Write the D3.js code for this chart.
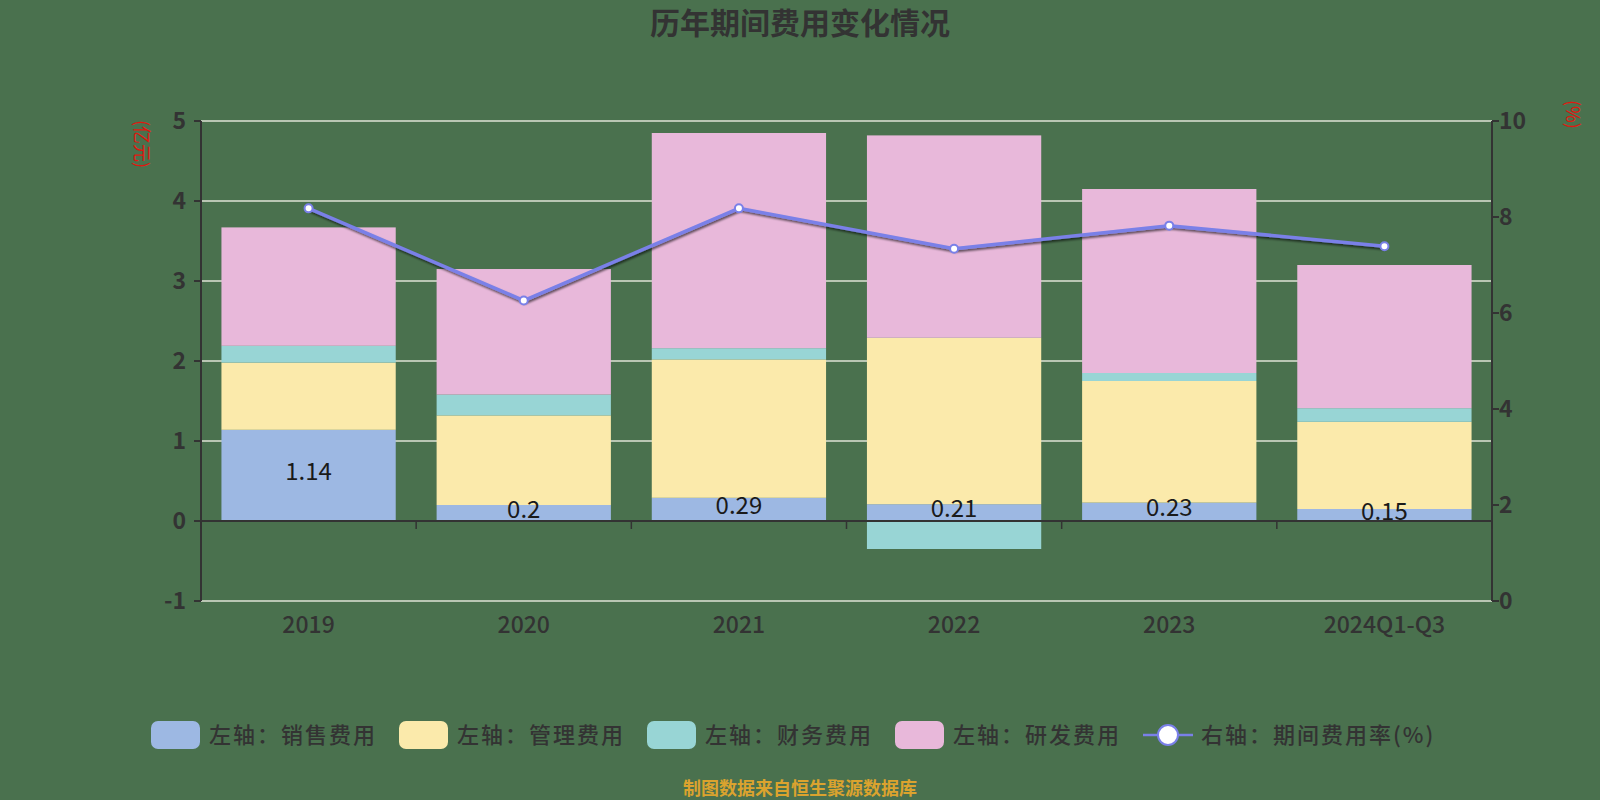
<!DOCTYPE html>
<html><head><meta charset="utf-8">
<script src="https://cdn.jsdelivr.net/npm/d3@7"></script>
<style>
html,body{margin:0;padding:0;background:#4a714e;}
svg{display:block;font-family:"Noto Sans CJK SC","Noto Sans",sans-serif;}
</style></head>
<body>
<svg id="chart" width="1600" height="800"></svg>
<script>
const categories = ['2019','2020','2021','2022','2023','2024Q1-Q3'];
const salesExp   = [1.14, 0.2, 0.29, 0.21, 0.23, 0.15];
const adminExp   = [0.84, 1.12, 1.73, 2.08, 1.52, 1.09];
const financeExp = [0.21, 0.26, 0.14, -0.35, 0.10, 0.17];
const rdExp      = [1.48, 1.57, 2.69, 2.53, 2.30, 1.79];
const expenseRate = [8.18, 6.26, 8.18, 7.34, 7.82, 7.39];
const leftTicks = [-1, 0, 1, 2, 3, 4, 5];
const rightTicks = [0, 2, 4, 6, 8, 10];
const seriesNames = ['左轴：销售费用','左轴：管理费用','左轴：财务费用','左轴：研发费用','右轴：期间费用率(%)'];
const title = '历年期间费用变化情况';
const source = '制图数据来自恒生聚源数据库';

const colors = ['#9db8e3','#fbeaab','#98d5d5','#e8b8da'];
const lineColor = '#7a80e8';

const svg = d3.select('#chart');
const W = 1600, H = 800;
const L = 201, R = 1492, T = 121, B = 601;

svg.append('rect').attr('width', W).attr('height', H).attr('fill', '#4a714e');

const defs = svg.append('defs');
const f = defs.append('filter').attr('id','shadow').attr('x','-10%').attr('y','-50%').attr('width','120%').attr('height','200%');
f.append('feDropShadow').attr('dx',1).attr('dy',2).attr('stdDeviation',1.2).attr('flood-color','#000').attr('flood-opacity',0.6);

const x = d3.scaleBand().domain(categories).range([L, R]).padding(0);
const yL = d3.scaleLinear().domain([-1, 5]).range([B, T]);
const yR = d3.scaleLinear().domain([0, 10]).range([B, T]);

// grid
svg.append('g').selectAll('line').data(leftTicks).join('line')
  .attr('x1', L).attr('x2', R).attr('y1', d => yL(d)).attr('y2', d => yL(d))
  .attr('stroke', '#dfe3d6').attr('stroke-width', 1.5);

// bars (positive / negative stacks)
const seriesData = [salesExp, adminExp, financeExp, rdExp];
const barW = x.bandwidth() * 0.81;
const rects = [];
categories.forEach((c, i) => {
  let pos = 0, neg = 0;
  seriesData.forEach((s, k) => {
    const v = s[i];
    let y0, y1;
    if (v >= 0) { y0 = pos; y1 = pos + v; pos = y1; }
    else { y1 = neg; y0 = neg + v; neg = y0; }
    rects.push({c, k, y0, y1, v});
  });
});
svg.append('g').selectAll('rect').data(rects).join('rect')
  .attr('x', d => x(d.c) + (x.bandwidth() - barW) / 2)
  .attr('width', barW)
  .attr('y', d => yL(d.y1))
  .attr('height', d => yL(d.y0) - yL(d.y1))
  .attr('fill', d => colors[d.k]);

// sales labels
svg.append('g').selectAll('text').data(rects.filter(d => d.k === 0)).join('text')
  .attr('x', d => x(d.c) + x.bandwidth() / 2)
  .attr('y', d => (yL(d.y0) + yL(d.y1)) / 2 - 4)
  .attr('dy', '0.36em')
  .attr('text-anchor', 'middle')
  .attr('font-size', 24).attr('fill', '#1a1a1a')
  .text(d => d.v);

// left axis
const gl = svg.append('g');
gl.append('line').attr('x1', L).attr('x2', L).attr('y1', T).attr('y2', B).attr('stroke', '#333').attr('stroke-width', 2);
gl.selectAll('line.t').data(leftTicks).join('line').attr('class','t')
  .attr('x1', L - 7).attr('x2', L).attr('y1', d => yL(d)).attr('y2', d => yL(d))
  .attr('stroke', '#333').attr('stroke-width', 2);
gl.selectAll('text').data(leftTicks).join('text')
  .attr('x', L - 15).attr('y', d => yL(d)).attr('dy', '0.35em')
  .attr('text-anchor', 'end').attr('font-size', 23).attr('fill', '#333').attr('font-weight', 'bold')
  .text(d => d);

// right axis
const gr = svg.append('g');
gr.append('line').attr('x1', R).attr('x2', R).attr('y1', T).attr('y2', B).attr('stroke', '#333').attr('stroke-width', 2);
gr.selectAll('line.t').data(rightTicks).join('line').attr('class','t')
  .attr('x1', R).attr('x2', R + 7).attr('y1', d => yR(d)).attr('y2', d => yR(d))
  .attr('stroke', '#333').attr('stroke-width', 2);
gr.selectAll('text').data(rightTicks).join('text')
  .attr('x', R + 7).attr('y', d => yR(d)).attr('dy', '0.35em')
  .attr('text-anchor', 'start').attr('font-size', 23).attr('fill', '#333').attr('font-weight', 'bold')
  .text(d => d);

// x axis at zero
const gx = svg.append('g');
gx.append('line').attr('x1', L).attr('x2', R).attr('y1', yL(0)).attr('y2', yL(0)).attr('stroke', '#333').attr('stroke-width', 2);
const boundaries = categories.map(c => x(c)).concat([R]);
gx.selectAll('line.t').data(boundaries).join('line').attr('class','t')
  .attr('x1', d => d).attr('x2', d => d).attr('y1', yL(0)).attr('y2', yL(0) + 8)
  .attr('stroke', '#333').attr('stroke-width', 1.5);
gx.selectAll('text').data(categories).join('text')
  .attr('x', d => x(d) + x.bandwidth() / 2).attr('y', 625).attr('dy', '0.35em')
  .attr('text-anchor', 'middle').attr('font-size', 23).attr('fill', '#333').attr('font-weight', 500)
  .text(d => d);

// axis names
svg.append('text').attr('transform', 'translate(135,120) rotate(90)')
  .attr('font-size', 18).attr('fill', '#e0170f').text('(亿元)');
svg.append('text').attr('transform', 'translate(1566,100) rotate(90)')
  .attr('font-size', 18).attr('fill', '#e0170f').text('(%)');

// line
const line = d3.line().x((d, i) => x(categories[i]) + x.bandwidth() / 2).y(d => yR(d));
svg.append('path').datum(expenseRate).attr('d', line)
  .attr('fill', 'none').attr('stroke', lineColor).attr('stroke-width', 3.5)
  .attr('filter', 'url(#shadow)');
svg.append('g').selectAll('circle').data(expenseRate).join('circle')
  .attr('cx', (d, i) => x(categories[i]) + x.bandwidth() / 2).attr('cy', d => yR(d))
  .attr('r', 4).attr('fill', '#fff').attr('stroke', lineColor).attr('stroke-width', 2);

// title
svg.append('text').attr('x', 800).attr('y', 23).attr('dy', '0.35em').attr('text-anchor', 'middle')
  .attr('font-size', 30).attr('font-weight', 'bold').attr('fill', '#333').text(title);

// legend
const legX = [151, 399, 647, 895, 1143];
const lg = svg.append('g');
seriesNames.forEach((name, i) => {
  const g = lg.append('g').attr('transform', `translate(${legX[i]},735)`);
  if (i < 4) {
    g.append('rect').attr('x', 0).attr('y', -14).attr('width', 49).attr('height', 28).attr('rx', 7)
      .attr('fill', colors[i]);
  } else {
    g.append('line').attr('x1', 0).attr('x2', 50).attr('y1', 0).attr('y2', 0).attr('stroke', lineColor).attr('stroke-width', 2.5);
    g.append('circle').attr('cx', 25).attr('cy', 0).attr('r', 10).attr('fill', '#fff').attr('stroke', lineColor).attr('stroke-width', 2);
  }
  g.append('text').attr('x', 58).attr('y', 0).attr('dy', '0.35em').attr('font-size', 22)
    .attr('letter-spacing', 2).attr('font-weight', 500)
    .attr('fill', '#333').text(name);
});

// source
svg.append('text').attr('x', 800).attr('y', 789).attr('dy', '0.35em').attr('text-anchor', 'middle')
  .attr('font-size', 18).attr('font-weight', 'bold').attr('fill', '#dba32e').text(source);
</script>
</body></html>
